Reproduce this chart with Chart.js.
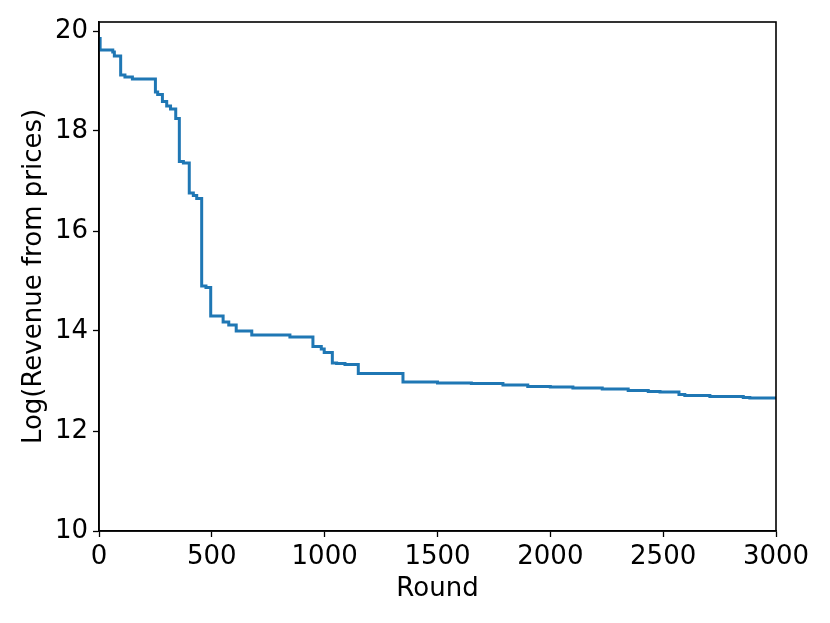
<!DOCTYPE html>
<html lang="en">
<head>
<meta charset="UTF-8">
<title>Log revenue by round</title>
<script src="https://cdn.jsdelivr.net/npm/chart.js"></script>
<style>
  body {
    margin: 0;
    background: #ffffff;
  }
  .chart-box {
    width: 830px;
    height: 623px;
  }
</style>
</head>
<body>
  <div class="chart-box">
    <canvas id="revenueChart" width="830" height="623"></canvas>
  </div>

  <script>
    // rounds where the value changes, and the value right after the change
    const rounds = [0, 5, 61, 68, 96, 115, 148, 250, 260, 281, 300, 317, 340, 356, 374, 400, 418, 433, 455, 474,
      495, 550, 575, 608, 677, 846, 948, 985, 998, 1034, 1053, 1090, 1149, 1347, 1500, 1650, 1790, 1900, 2000,
      2100, 2230, 2345, 2434, 2486, 2570, 2596, 2707, 2855, 2884, 3000];
    const logRevenue = [19.85, 19.62, 19.58, 19.5, 19.12, 19.08, 19.04, 18.78, 18.73, 18.59, 18.5, 18.44, 18.25,
      17.39, 17.36, 16.76, 16.71, 16.65, 14.9, 14.87, 14.3, 14.18, 14.12, 14.0, 13.92, 13.88, 13.69, 13.64, 13.57,
      13.36, 13.35, 13.33, 13.15, 12.98, 12.96, 12.95, 12.92, 12.89, 12.88, 12.86, 12.84, 12.81, 12.79, 12.78,
      12.73, 12.71, 12.69, 12.67, 12.66, 12.66];
    const xTicks = [0, 500, 1000, 1500, 2000, 2500, 3000];
    const yTicks = [10, 12, 14, 16, 18, 20];

    const points = rounds.map((r, i) => ({ x: r, y: logRevenue[i] }));
    const font = { family: 'DejaVu Sans', size: 26 };

    // black box around the plot like matplotlib spines
    const frame = {
      id: 'frame',
      afterDraw(chart) {
        const a = chart.chartArea;
        const c = chart.ctx;
        c.save();
        c.strokeStyle = '#000';
        c.lineWidth = 1.6;
        c.strokeRect(a.left, a.top, a.right - a.left, a.bottom - a.top);
        c.restore();
      }
    };

    new Chart(document.getElementById('revenueChart'), {
      type: 'line',
      data: {
        datasets: [{
          data: points,
          borderColor: '#1f77b4',
          borderWidth: 3,
          pointRadius: 0,
          stepped: 'before',
          fill: false
        }]
      },
      options: {
        responsive: false,
        animation: false,
        layout: { padding: { top: 22, right: 54, left: 19, bottom: 18 } },
        plugins: { legend: { display: false }, tooltip: { enabled: false } },
        scales: {
          x: {
            type: 'linear',
            min: 0,
            max: 3000,
            afterFit: s => { s.height = 74; },
            afterBuildTicks: s => { s.ticks = xTicks.map(v => ({ value: v })); },
            grid: { drawOnChartArea: false, tickLength: 6, tickColor: '#000', tickWidth: 1.3 },
            border: { color: '#000', width: 1.6 },
            ticks: { color: '#000', font: font, maxRotation: 0, padding: 5, callback: v => String(v) },
            title: { display: true, text: 'Round', color: '#000', font: font, padding: { top: 0, bottom: 0 } }
          },
          y: {
            min: 10,
            max: 20.18,
            afterFit: s => { s.width = 80; },
            afterBuildTicks: s => { s.ticks = yTicks.map(v => ({ value: v })); },
            grid: { drawOnChartArea: false, tickLength: 6, tickColor: '#000', tickWidth: 1.3 },
            border: { color: '#000', width: 1.6 },
            ticks: { color: '#000', font: font, padding: 5 },
            title: { display: true, text: 'Log(Revenue from prices)', color: '#000', font: font, padding: { top: 0, bottom: 0 } }
          }
        }
      },
      plugins: [frame]
    });
  </script>
</body>
</html>
